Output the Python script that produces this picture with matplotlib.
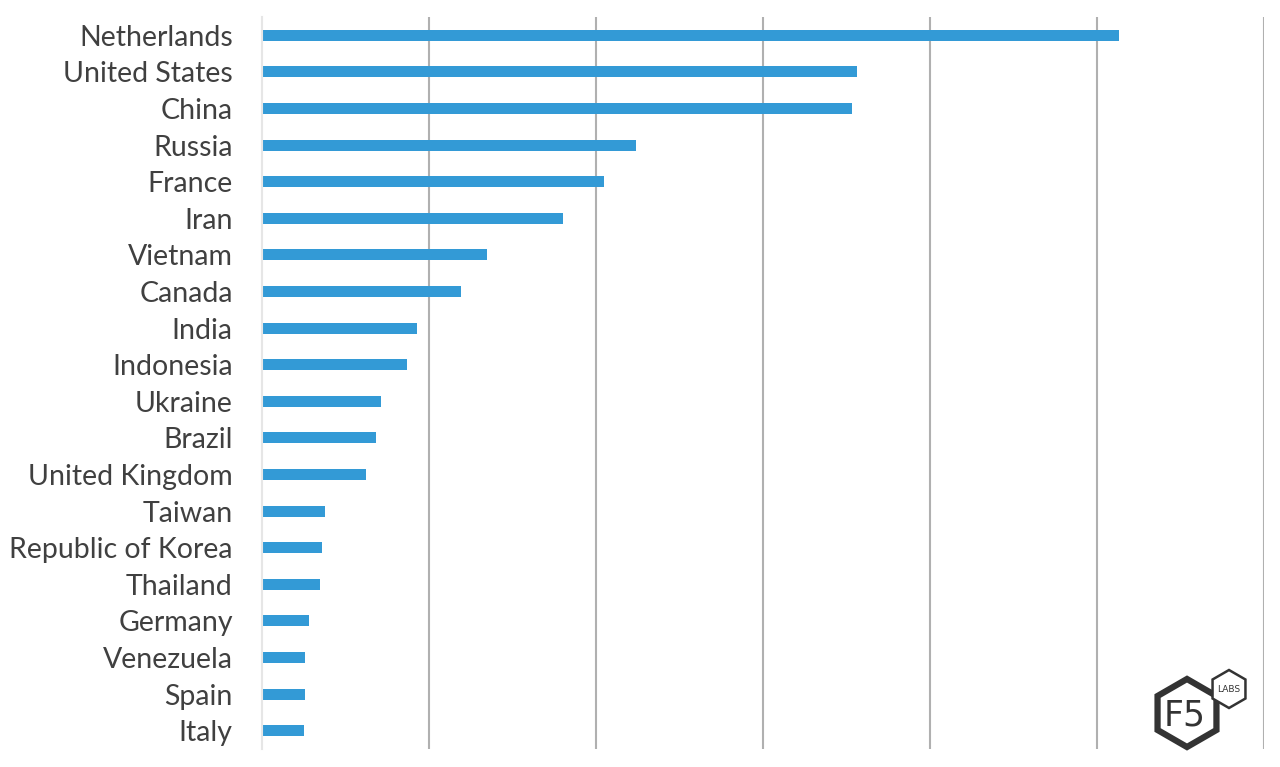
import numpy as np
import matplotlib.pyplot as plt
from matplotlib.patches import RegularPolygon

countries = ['Netherlands', 'United States', 'China', 'Russia', 'France', 'Iran',
             'Vietnam', 'Canada', 'India', 'Indonesia', 'Ukraine', 'Brazil',
             'United Kingdom', 'Taiwan', 'Republic of Korea', 'Thailand',
             'Germany', 'Venezuela', 'Spain', 'Italy']
# share of traffic (grid step = 1 unit)
values = [5.13, 3.56, 3.53, 2.24, 2.05, 1.80, 1.35, 1.19, 0.93, 0.87,
          0.71, 0.68, 0.62, 0.38, 0.36, 0.35, 0.28, 0.26, 0.26, 0.25]

plt.rcParams['font.family'] = ['Lato', 'DejaVu Sans']

fig = plt.figure(figsize=(12.8, 7.67), dpi=100)
ax = fig.add_axes([262 / 1280, 1 - 749 / 767, (1264 - 262) / 1280, (749 - 17) / 767])

y = np.arange(len(countries))
ax.barh(y, values, height=0.3, color='#339ad6')
ax.set_ylim(len(countries) - 0.5, -0.5)
ax.set_xlim(0, 6)
ax.set_xticks(np.arange(1, 7))
ax.set_xticklabels([])
ax.tick_params(axis='x', length=0)
ax.grid(axis='x', color='#b0b0b0', lw=1.5)
ax.set_axisbelow(True)
ax.set_yticks(y)
ax.set_yticklabels(countries, fontsize=20.5, color='#404040')
ax.tick_params(axis='y', length=0, pad=21)
for s in ['top', 'right', 'bottom']:
    ax.spines[s].set_visible(False)
ax.spines['left'].set_color('#e6e6e6')
ax.spines['left'].set_linewidth(1.5)

# F5 Labs logo
W, H = 1280, 767
def fx(px):
    return px / W
def fy(py):
    return 1 - py / H
big = RegularPolygon((1187, H - 713), 6, radius=34, orientation=0,
                     transform=None, fill=False, ec='#333333', lw=4.5)
small = RegularPolygon((1229, H - 689), 6, radius=19, orientation=0,
                       transform=None, fc='white', ec='#333333', lw=1.8, zorder=3)
fig.patches.extend([big, small])
fig.text(fx(1185), fy(715), 'F5', fontsize=25, color='#333333',
         ha='center', va='center', family='DejaVu Sans')
fig.text(fx(1229), fy(689), 'LABS', fontsize=6.5, color='#333333',
         ha='center', va='center', family='DejaVu Sans', zorder=4)

fig.savefig('out.png', dpi=100)
